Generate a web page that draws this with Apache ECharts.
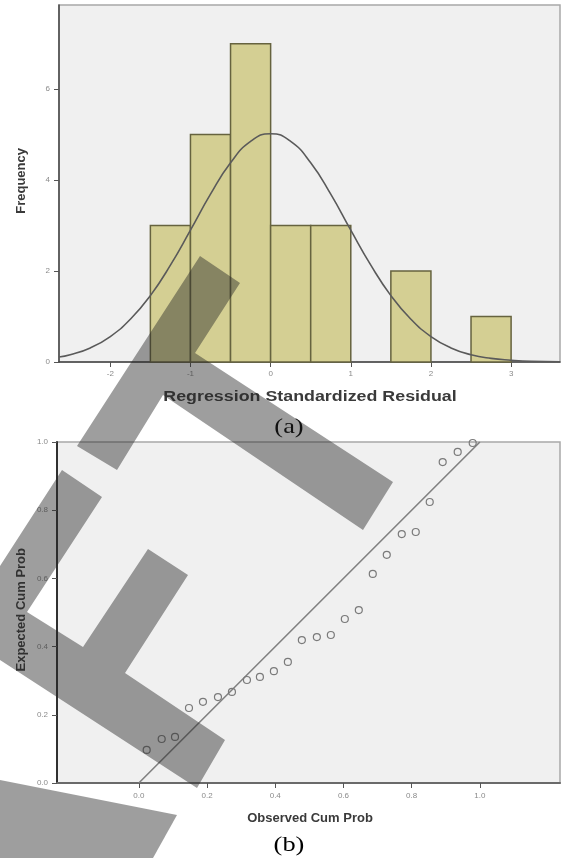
<!DOCTYPE html>
<html>
<head>
<meta charset="utf-8">
<style>
  html, body { margin: 0; padding: 0; background: #ffffff; }
  #chart { width: 563px; height: 858px; }
</style>
<script src="https://cdn.jsdelivr.net/npm/echarts@6/dist/echarts.min.js"></script>
</head>
<body>
<div id="chart"></div>
<script>
// Histogram of regression standardized residuals (bin edges and counts)
const histBinStart = [-1.5, -1.0, -0.5, 0.0, 0.5, 1.5, 2.5];
const histBinEnd   = [-1.0, -0.5, 0.0, 0.5, 1.0, 2.0, 3.0];
const histCounts   = [3, 5, 7, 3, 3, 2, 1];

// Fitted normal curve, sampled along the residual axis
const curveX = [-2.64, -2.5, -2.25, -2, -1.75, -1.5, -1.25, -1, -0.75, -0.5, -0.25, 0,
                0.25, 0.5, 0.75, 1, 1.25, 1.5, 1.75, 2, 2.25, 2.5, 2.75, 3, 3.25, 3.61];
const curveY = [0.11, 0.16, 0.31, 0.56, 0.94, 1.46, 2.13, 2.90, 3.69, 4.38, 4.85, 5.02,
                4.85, 4.38, 3.69, 2.90, 2.13, 1.46, 0.94, 0.56, 0.31, 0.16, 0.08, 0.04, 0.015, 0.004];

const histXTicks = [-2, -1, 0, 1, 2, 3];
const histYTicks = [0, 2, 4, 6];

// Normal P-P plot points
const ppObserved = [0.023, 0.067, 0.106, 0.147, 0.188, 0.232, 0.273, 0.317, 0.355, 0.396, 0.437, 0.478,
                    0.522, 0.563, 0.604, 0.645, 0.686, 0.727, 0.771, 0.812, 0.853, 0.891, 0.935, 0.979];
const ppExpected = [0.097, 0.129, 0.135, 0.220, 0.238, 0.252, 0.267, 0.302, 0.311, 0.328, 0.355, 0.419,
                    0.428, 0.434, 0.481, 0.507, 0.613, 0.669, 0.730, 0.736, 0.824, 0.941, 0.971, 0.997];
const ppTicks = [0, 0.2, 0.4, 0.6, 0.8, 1.0];
const refLine = [[0, 0], [1, 1]];

const chart = echarts.init(document.getElementById('chart'), null, { renderer: 'canvas' });

const tickLabelStyle = { color: '#8a8a8a', fontSize: 8, fontFamily: 'Liberation Sans' };
const darkAxis = { show: true, onZero: false, lineStyle: { color: '#454545', width: 1.5 } };
const tickStyle = { show: true, length: 5, lineStyle: { color: '#555', width: 1 } };

// Diagonal "DRAFT" stamp strokes laid over the figure
const stampFill = 'rgba(40,40,40,0.45)';
const stampShapes = [
  [[200,256],[240,283],[195,353],[393,482],[363,530],[163,395],[117,470],[77,446]],
  [[0,566],[62,470],[102,497],[27,612],[83,647],[148,549],[188,575],[125,673],[225,740],[197,788],[0,660]],
  [[0,780],[177,815],[153,858],[0,858]]
];

const option = {
  animation: false,
  backgroundColor: '#ffffff',
  grid: [
    { left: 59, top: 5, width: 501, height: 357, show: true, backgroundColor: '#f0f0f0',
      borderColor: '#a8a8a8', borderWidth: 1.5, containLabel: false },
    { left: 57, top: 442, width: 503, height: 341, show: true, backgroundColor: '#f0f0f0',
      borderColor: '#a8a8a8', borderWidth: 1.5, containLabel: false }
  ],
  xAxis: [
    { type: 'value', gridIndex: 0, min: -2.64, max: 3.61,
      axisLine: darkAxis, splitLine: { show: false },
      axisTick: Object.assign({ customValues: histXTicks }, tickStyle),
      axisLabel: Object.assign({ customValues: histXTicks, margin: 8 }, tickLabelStyle) },
    { type: 'value', gridIndex: 1, min: -0.24, max: 1.235,
      axisLine: { show: true, onZero: false, lineStyle: { color: '#6a6a6a', width: 2 } },
      splitLine: { show: false },
      axisTick: Object.assign({ customValues: ppTicks }, tickStyle),
      axisLabel: Object.assign({ customValues: ppTicks, margin: 9,
        formatter: v => v.toFixed(1) }, tickLabelStyle) }
  ],
  yAxis: [
    { type: 'value', gridIndex: 0, min: 0, max: 7.85,
      axisLine: darkAxis, splitLine: { show: false },
      axisTick: Object.assign({ customValues: histYTicks }, tickStyle),
      axisLabel: Object.assign({ customValues: histYTicks, margin: 9 }, tickLabelStyle) },
    { type: 'value', gridIndex: 1, min: 0, max: 1, interval: 0.2,
      axisLine: { show: true, onZero: false, lineStyle: { color: '#303030', width: 2 } },
      splitLine: { show: false },
      axisTick: tickStyle,
      axisLabel: Object.assign({ margin: 9, formatter: v => v.toFixed(1) }, tickLabelStyle) }
  ],
  series: [
    {
      type: 'custom', xAxisIndex: 0, yAxisIndex: 0, z: 2,
      dimensions: ['start', 'end', 'count'],
      encode: { x: [0, 1], y: 2 },
      data: histBinStart.map((s, i) => [s, histBinEnd[i], histCounts[i]]),
      renderItem: function (params, api) {
        const topLeft = api.coord([api.value(0), api.value(2)]);
        const bottomRight = api.coord([api.value(1), 0]);
        return {
          type: 'rect',
          shape: { x: topLeft[0], y: topLeft[1],
                   width: bottomRight[0] - topLeft[0], height: bottomRight[1] - topLeft[1] },
          style: { fill: '#d4cf93', stroke: '#66633f', lineWidth: 1.5 }
        };
      }
    },
    {
      type: 'line', xAxisIndex: 0, yAxisIndex: 0, z: 3,
      data: curveX.map((x, i) => [x, curveY[i]]),
      smooth: true, showSymbol: false, symbol: 'none',
      lineStyle: { color: '#5a5a5a', width: 1.6 }
    },
    {
      type: 'line', xAxisIndex: 1, yAxisIndex: 1, z: 3,
      data: refLine, showSymbol: false, symbol: 'none',
      lineStyle: { color: '#808080', width: 1.6 }
    },
    {
      type: 'scatter', xAxisIndex: 1, yAxisIndex: 1, z: 4,
      data: ppObserved.map((x, i) => [x, ppExpected[i]]),
      symbol: 'circle', symbolSize: 7,
      itemStyle: { color: 'rgba(240,240,240,0)', borderColor: '#7a7a7a', borderWidth: 1.2, opacity: 1 }
    }
  ],
  graphic: [
    { type: 'text', left: 15, top: 148, rotation: Math.PI / 2, z: 50,
      style: { text: 'Frequency', font: 'bold 13px "Liberation Sans"', fill: '#3a3a3a' } },
    { type: 'text', x: 310, y: 397, z: 50, scaleX: 1.23,
      style: { text: 'Regression Standardized Residual', font: 'bold 14.5px "Liberation Sans"',
               fill: '#3a3a3a', align: 'center', verticalAlign: 'middle' } },
    { type: 'text', x: 289, y: 427, z: 50, scaleX: 1.2,
      style: { text: '(a)', font: '22px "Liberation Serif"', fill: '#000',
               align: 'center', verticalAlign: 'middle' } },
    { type: 'text', left: 15, top: 548, rotation: Math.PI / 2, z: 50,
      style: { text: 'Expected Cum Prob', font: 'bold 13px "Liberation Sans"', fill: '#3a3a3a' } },
    { type: 'text', x: 310, y: 818, z: 50,
      style: { text: 'Observed Cum Prob', font: 'bold 13px "Liberation Sans"',
               fill: '#3a3a3a', align: 'center', verticalAlign: 'middle' } },
    { type: 'text', x: 289, y: 845, z: 50, scaleX: 1.2,
      style: { text: '(b)', font: '22px "Liberation Serif"', fill: '#000',
               align: 'center', verticalAlign: 'middle' } }
  ].concat(stampShapes.map(pts => ({
    type: 'polygon', z: 100, silent: true,
    shape: { points: pts },
    style: { fill: stampFill }
  })))
};

chart.setOption(option);
</script>
</body>
</html>
